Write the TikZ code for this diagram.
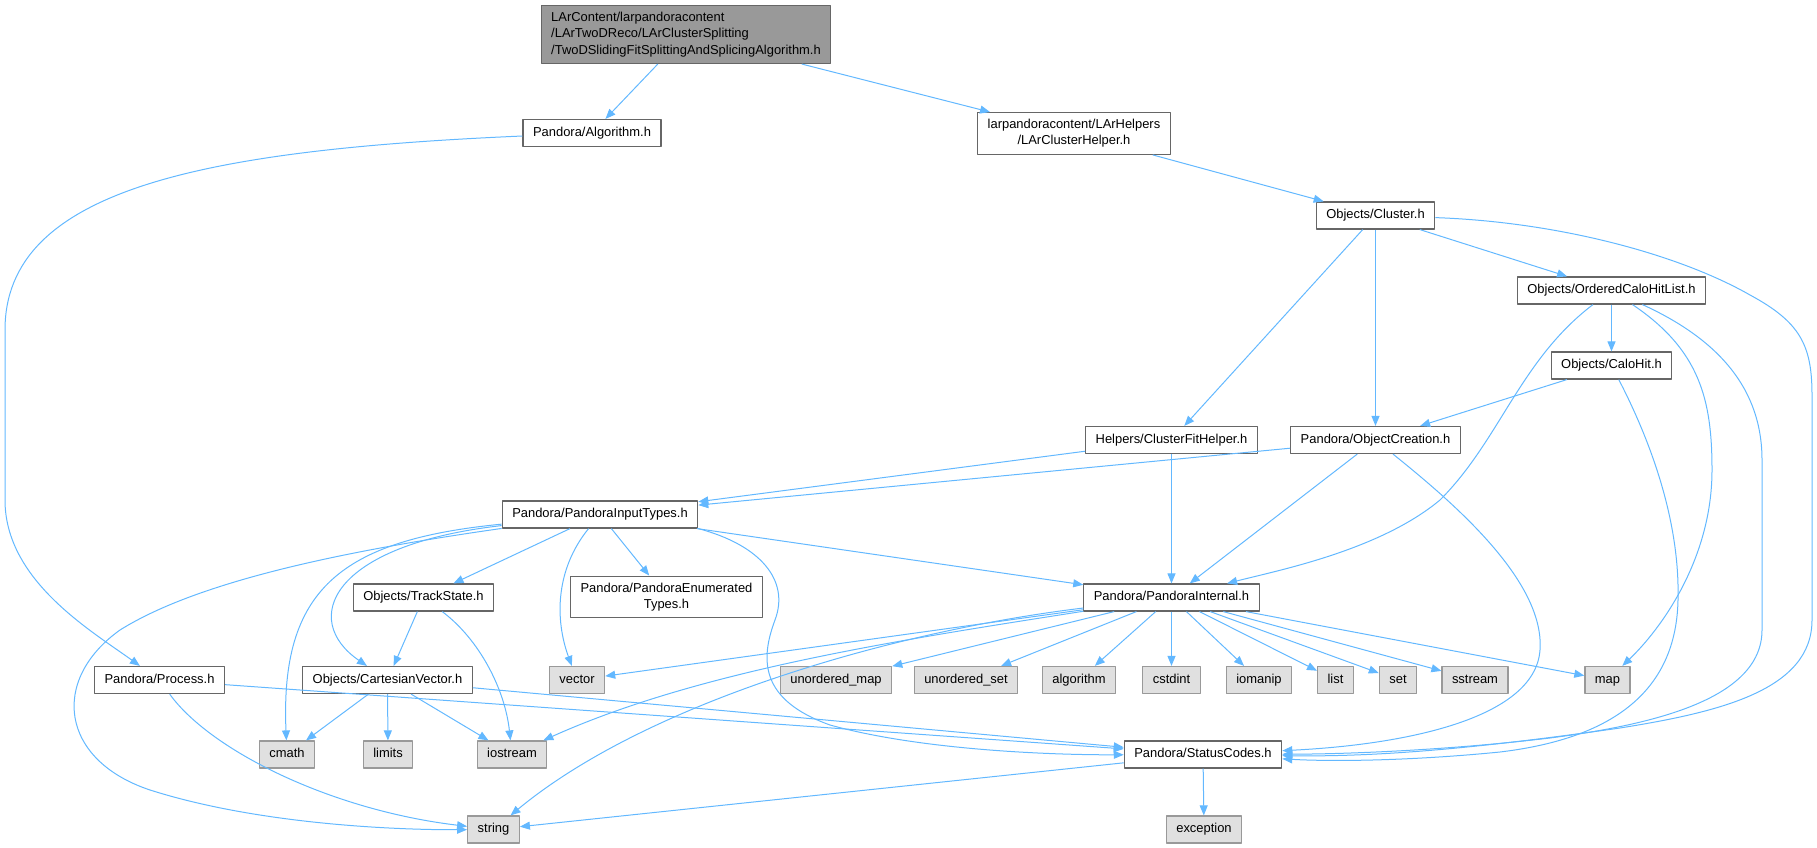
\documentclass[tikz,border=0pt]{standalone}
\usepackage{fontspec}
\setmainfont{Liberation Sans}
\usepackage{tikz}
\usetikzlibrary{arrows.meta}
\definecolor{edgeblue}{HTML}{63B8FF}
\definecolor{boxgray}{HTML}{666666}
\definecolor{rootfill}{HTML}{999999}
\definecolor{sysgray}{HTML}{999999}
\definecolor{sysfill}{HTML}{E0E0E0}
\tikzstyle{hdr}=[draw=boxgray,fill=white,line width=0.9pt,inner xsep=7.5pt,inner ysep=5pt,font=\fontsize{9.7pt}{12.2pt}\selectfont]
\tikzstyle{file}=[hdr,text height=7.6pt,text depth=2.65pt]
\tikzstyle{sys}=[file,draw=sysgray,fill=sysfill]
\tikzstyle{longfile}=[hdr,align=center]
\tikzstyle{mainfile}=[hdr,align=left,fill=rootfill]
\tikzstyle{inc}=[color=edgeblue,line width=0.75pt,->]
\newcommand{\newHeader}[4]{\node[#3](#1) at (#4) {#2};}
\newcommand{\newInclude}[3]{\path[inc] (#1) edge [#3] (#2);}

\begin{document}
\begin{tikzpicture}[x=0.75pt,y=-0.75pt,
      >={Triangle[length=7.5pt,width=6pt]},
      line join=round
      ]
      \useasboundingbox (0,0) rectangle (1817,848);
      % headers
      \newHeader{tdsfs}{LArContent/larpandoracontent\\/LArTwoDReco/LArClusterSplitting\\/TwoDSlidingFitSplittingAndSplicingAlgorithm.h}{mainfile}{686,34.5}
      \newHeader{alg}{Pandora/Algorithm.h}{file}{592,133}
      \newHeader{lch}{larpandoracontent/LArHelpers\\/LArClusterHelper.h}{longfile}{1074,133.5}
      \newHeader{cluster}{Objects/Cluster.h}{file}{1375.5,215.5}
      \newHeader{ochl}{Objects/OrderedCaloHitList.h}{file}{1611.5,290.5}
      \newHeader{calohit}{Objects/CaloHit.h}{file}{1611.5,365.5}
      \newHeader{cfh}{Helpers/ClusterFitHelper.h}{file}{1171.5,440}
      \newHeader{objc}{Pandora/ObjectCreation.h}{file}{1375.5,440}
      \newHeader{pit}{Pandora/PandoraInputTypes.h}{file}{600,514.5}
      \newHeader{track}{Objects/TrackState.h}{file}{423.5,597.5}
      \newHeader{penum}{Pandora/PandoraEnumerated\\Types.h}{longfile}{666.5,597}
      \newHeader{pint}{Pandora/PandoraInternal.h}{file}{1171.5,597.5}
      \newHeader{process}{Pandora/Process.h}{file}{159.5,680}
      \newHeader{cvec}{Objects/CartesianVector.h}{file}{387.5,680}
      \newHeader{status}{Pandora/StatusCodes.h}{file}{1203,754.5}
      % system headers
      \newHeader{vector}{vector}{sys}{577,680}
      \newHeader{umap}{unordered\_map}{sys}{836,680}
      \newHeader{uset}{unordered\_set}{sys}{966,680}
      \newHeader{algorithm}{algorithm}{sys}{1079,680}
      \newHeader{cstdint}{cstdint}{sys}{1171.5,680}
      \newHeader{iomanip}{iomanip}{sys}{1259,680}
      \newHeader{list}{list}{sys}{1335.5,680}
      \newHeader{set}{set}{sys}{1398,680}
      \newHeader{sstream}{sstream}{sys}{1475,680}
      \newHeader{map}{map}{sys}{1607.5,680}
      \newHeader{cmath}{cmath}{sys}{287,754.5}
      \newHeader{limits}{limits}{sys}{388,754.5}
      \newHeader{iostream}{iostream}{sys}{512,754.5}
      \newHeader{string}{string}{sys}{493.5,829.5}
      \newHeader{exception}{exception}{sys}{1204,829.5}
      % includes
      \newInclude{tdsfs}{alg}{}
      \newInclude{tdsfs}{lch}{}
      \newInclude{lch}{cluster}{}
      \newInclude{cluster}{cfh}{}
      \newInclude{cluster}{objc}{}
      \newInclude{cluster}{ochl}{}
      \newInclude{ochl}{calohit}{}
      \newInclude{calohit}{objc}{}
      \newInclude{cfh}{pit}{}
      \newInclude{cfh}{pint}{}
      \newInclude{objc}{pit}{}
      \newInclude{objc}{pint}{}
      \newInclude{pit}{track}{}
      \newInclude{pit}{penum}{}
      \newInclude{pit}{pint}{}
      \newInclude{track}{cvec}{}
      \newInclude{cvec}{cmath}{}
      \newInclude{cvec}{limits}{}
      \newInclude{cvec}{iostream}{}
      \newInclude{cvec}{status}{}
      \newInclude{process}{status}{}
      \newInclude{pint}{vector}{}
      \newInclude{pint}{umap}{}
      \newInclude{pint}{uset}{}
      \newInclude{pint}{algorithm}{}
      \newInclude{pint}{cstdint}{}
      \newInclude{pint}{iomanip}{}
      \newInclude{pint}{list}{}
      \newInclude{pint}{set}{}
      \newInclude{pint}{sstream}{}
      \newInclude{pint}{map}{}
      \newInclude{status}{string}{}
      \newInclude{status}{exception}{}
      % curved includes
      \draw[inc] (alg) .. controls (200,150) and (5,190) .. (5,330) -- (5,500) .. controls (5,580) and (90,630) .. (process);
      \draw[inc] (cluster) .. controls (1560,222) and (1680,255) .. (1750,295) .. controls (1800,322) and (1812,345) .. (1812,395) -- (1812,620) .. controls (1812,690) and (1720,712) .. (1620,728) .. controls (1480,748) and (1380,757) .. (status);
      \draw[inc] (ochl) .. controls (1520,360) and (1500,440) .. (1440,500) .. controls (1380,550) and (1280,570) .. (pint);
      \draw[inc] (ochl) .. controls (1700,350) and (1712,400) .. (1712,470) .. controls (1712,560) and (1660,630) .. (map);
      \draw[inc] (ochl) .. controls (1720,340) and (1762,390) .. (1762,460) -- (1762,630) .. controls (1762,700) and (1650,725) .. (1550,738) .. controls (1450,750) and (1350,754) .. (status);
      \draw[inc] (calohit) .. controls (1650,440) and (1680,520) .. (1678,600) .. controls (1676,700) and (1600,740) .. (1500,752) .. controls (1420,760) and (1340,762) .. (status);
      \draw[inc] (objc) .. controls (1450,500) and (1545,580) .. (1540,650) .. controls (1535,720) and (1400,745) .. (status);
      \draw[inc] (pit) .. controls (350,550) and (200,580) .. (120,630) .. controls (50,680) and (60,760) .. (150,790) .. controls (260,825) and (400,830) .. (string);
      \draw[inc] (pit) .. controls (340,540) and (280,590) .. (cmath);
      \draw[inc] (pit) .. controls (330,545) and (300,620) .. (cvec);
      \draw[inc] (pit) .. controls (555,570) and (555,620) .. (vector);
      \draw[inc] (pit.south east) .. controls (760,545) and (790,580) .. (775,620) .. controls (760,660) and (760,700) .. (830,725) .. controls (920,750) and (1050,755) .. (status);
      \draw[inc] (track) .. controls (480,640) and (505,690) .. (iostream);
      \draw[inc] (process) .. controls (210,750) and (330,810) .. (string);
      \draw[inc] (pint) .. controls (900,640) and (700,670) .. (iostream);
      \draw[inc] (pint) .. controls (900,630) and (650,700) .. (string);
    \end{tikzpicture}
\end{document}
